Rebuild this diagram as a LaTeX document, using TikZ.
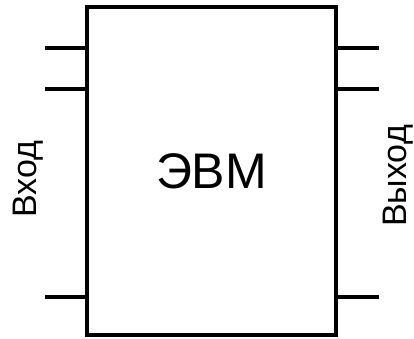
\documentclass[tikz,border=0pt]{standalone}
\usepackage{fontspec}
\setmainfont{Liberation Sans}
\usepackage{tikz}
\usetikzlibrary{positioning, calc}

\begin{document}
\begin{tikzpicture}[x=1pt,y=-1pt,line width=3.2pt,
    blok/.style={draw,inner sep=0pt,minimum width=249pt,minimum height=328pt,font=\fontsize{50}{58}\selectfont},
    pin/.style={line cap=butt},
    podpis/.style={rotate=90,inner sep=0pt,font=\fontsize{34}{40}\selectfont}]
        \useasboundingbox (0,0) rectangle (414,338);
        \node[blok] (evm) at (211.5,171) {ЭВМ};
        % входы
        \coordinate (in1) at (45,48);
        \coordinate (in2) at (45,89);
        \coordinate (in3) at (45,297);
        % выходы
        \coordinate (out1) at (379,48);
        \coordinate (out2) at (379,89);
        \coordinate (out3) at (379,297);
        \draw[pin] (in1)--(in1 -| evm.west);
        \draw[pin] (in2)--(in2 -| evm.west);
        \draw[pin] (in3)--(in3 -| evm.west);
        \draw[pin] (out1)--(out1 -| evm.east);
        \draw[pin] (out2)--(out2 -| evm.east);
        \draw[pin] (out3)--(out3 -| evm.east);
        \node[podpis] (vhod) at (28,179) {Вход};
        \node[podpis] (vyhod) at (398,176) {Выход};
      \end{tikzpicture}
\end{document}
